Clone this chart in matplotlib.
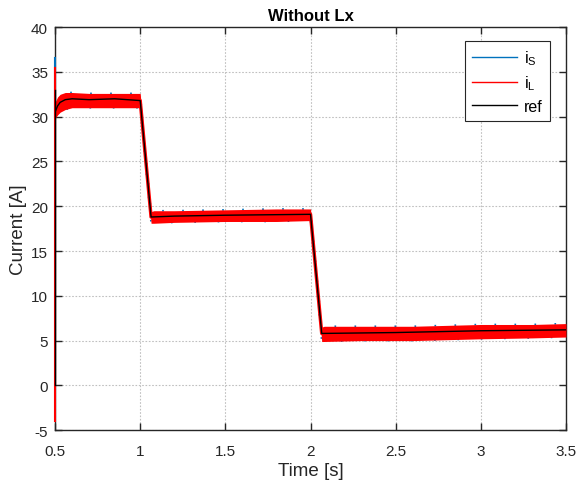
import matplotlib
matplotlib.use('Agg')
import matplotlib.pyplot as plt
import numpy as np

plt.rcParams['font.family'] = ['Liberation Sans', 'DejaVu Sans']
plt.rcParams['mathtext.default'] = 'regular'
plt.rcParams['axes.unicode_minus'] = False

# envelope of the switching ripple (i_L band) and the reference current
t_env = [0.5, 0.515, 0.53, 0.56, 0.6, 0.7, 0.8, 0.9, 1.0, 1.064, 1.08, 1.2, 1.5, 1.8, 2.0,
         2.066, 2.08, 2.3, 2.6, 3.0, 3.3, 3.5]
upper = [31.6, 32.2, 32.5, 32.7, 32.7, 32.6, 32.6, 32.6, 32.6, 19.4, 19.5, 19.5, 19.6, 19.7, 19.7,
         6.5, 6.6, 6.6, 6.6, 6.8, 6.8, 6.9]
lower = [29.8, 30.2, 30.5, 30.8, 31.0, 31.0, 31.0, 31.0, 31.0, 18.1, 18.1, 18.2, 18.3, 18.3, 18.4,
         4.9, 4.9, 5.0, 5.0, 5.2, 5.3, 5.4]

t_ref = [0.5, 0.515, 0.53, 0.56, 0.6, 0.7, 0.85, 1.0, 1.064, 1.2, 1.5, 2.0, 2.066, 2.5, 3.0, 3.5]
i_ref = [30.5, 31.2, 31.6, 31.9, 32.0, 31.9, 32.0, 31.8, 18.8, 18.9, 19.0, 19.1, 5.8, 5.9, 6.1, 6.2]

# start-up transient at t = 0.5 s
spike_t = [0.5, 0.5]
spike_s = [30.0, 36.5]
spike_l = [-4.0, 35.4]
spike_r = [0.0, 33.0]

blue = '#0072BD'

fig = plt.figure(figsize=(5.78, 4.85), dpi=100)
ax = fig.add_axes([0.0952, 0.111, 0.884, 0.831])

ax.plot(spike_t, spike_s, color=blue, lw=1.5, clip_on=False, zorder=3)
ax.plot(t_env, upper, color=blue, lw=1.2, ls=(0, (1, 11)), zorder=3)
ax.plot(t_env, lower, color=blue, lw=1.2, ls=(5, (1, 13)), zorder=3)
ax.plot([], [], color=blue, lw=1, label='$i_S$')

ax.fill_between(t_env, lower, upper, color='red', lw=0, zorder=4)
ax.plot(t_ref, i_ref, color='red', lw=2.5, zorder=4, solid_capstyle='butt')
ax.plot(spike_t, spike_l, color='red', lw=1.5, clip_on=False, zorder=4)
ax.plot([], [], color='red', lw=1, label='$i_L$')

ax.plot(t_ref, i_ref, color='black', lw=1.0, zorder=5, label='ref')
ax.plot(spike_t, spike_r, color='black', lw=1.0, clip_on=False, zorder=5)

ax.set_xlim(0.5, 3.5)
ax.set_ylim(-5, 40)
ax.set_xticks([0.5, 1, 1.5, 2, 2.5, 3, 3.5])
ax.set_xticklabels(['0.5', '1', '1.5', '2', '2.5', '3', '3.5'])
ax.set_yticks(np.arange(-5, 41, 5))

ax.grid(True, color='#c0c0c0', ls=(0, (1.5, 1.5)), lw=0.8)
ax.set_axisbelow(True)
for s in ax.spines.values():
    s.set_color('#262626')
    s.set_linewidth(1.0)
    s.set_zorder(2)
ax.tick_params(direction='in', length=5, width=1, top=True, right=True,
               labelsize=11, colors='#262626', pad=5)
ax.tick_params(axis='x', pad=10)

ax.set_xlabel('Time [s]', fontsize=13.5, color='#262626', labelpad=3)
ax.set_ylabel('Current [A]', fontsize=13.5, color='#262626', labelpad=3)
ax.set_title('Without Lx', fontsize=12, fontweight='bold', pad=5)

leg = ax.legend(loc='upper right', fontsize=11.5, fancybox=False, framealpha=1,
                edgecolor='#262626', handlelength=2.8, borderpad=0.45,
                labelspacing=0.4, handletextpad=0.45, borderaxespad=0,
                bbox_to_anchor=(0.969, 0.965))
leg.get_frame().set_linewidth(0.8)
leg.set_zorder(10)

fig.savefig('out.png', dpi=100)
